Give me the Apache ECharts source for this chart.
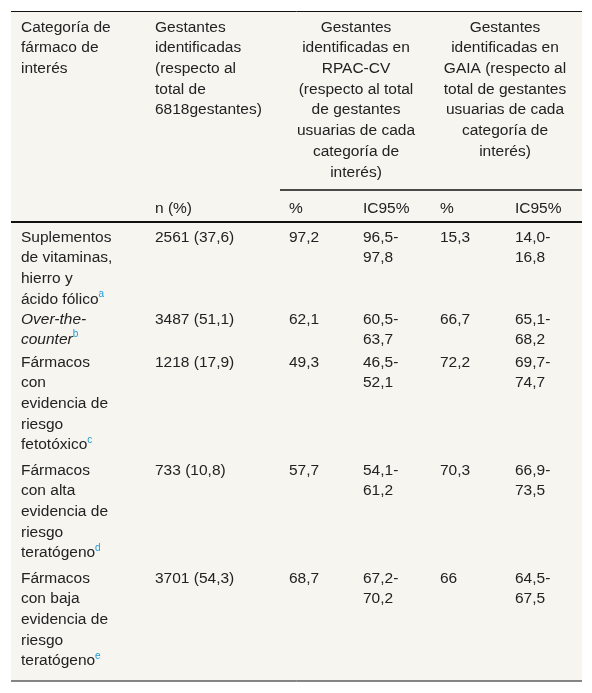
<!DOCTYPE html>
<html><head><meta charset="utf-8">
<script src="https://cdn.jsdelivr.net/npm/echarts@6/dist/echarts.min.js"></script>
<style>html,body{margin:0;background:#fff}#c{width:592px;height:693px}</style>
</head><body><div id="c"></div>
<script>
// row labels (already wrapped like the reference), {sup|} = footnote mark
const categories = [
  'Suplementos\nde vitaminas,\nhierro y\nácido fólico{sup|a}',
  '{it|Over-the-}\n{it|counter}{sup|b}',
  'Fármacos\ncon\nevidencia de\nriesgo\nfetotóxico{sup|c}',
  'Fármacos\ncon alta\nevidencia de\nriesgo\nteratógeno{sup|d}',
  'Fármacos\ncon baja\nevidencia de\nriesgo\nteratógeno{sup|e}'
];
const identified = ['2561 (37,6)', '3487 (51,1)', '1218 (17,9)', '733 (10,8)', '3701 (54,3)'];
const rpacPct = ['97,2', '62,1', '49,3', '57,7', '68,7'];
const rpacCI = ['96,5-\n97,8', '60,5-\n63,7', '46,5-\n52,1', '54,1-\n61,2', '67,2-\n70,2'];
const gaiaPct = ['15,3', '66,7', '72,2', '70,3', '66'];
const gaiaCI = ['14,0-\n16,8', '65,1-\n68,2', '69,7-\n74,7', '66,9-\n73,5', '64,5-\n67,5'];
const headers = [
  'Categoría de\nfármaco de\ninterés',
  'Gestantes\nidentificadas\n(respecto al\ntotal de\n6818gestantes)',
  'Gestantes\nidentificadas en\nRPAC-CV\n(respecto al total\nde gestantes\nusuarias de cada\ncategoría de\ninterés)',
  'Gestantes\nidentificadas en\nGAIA (respecto al\ntotal de gestantes\nusuarias de cada\ncategoría de\ninterés)'
];
const subHeaders = ['', 'n (%)', '%', 'IC95%', '%', 'IC95%'];

const colX = [21, 155, 289, 363, 440, 515];
const rowTop = [227, 309, 352, 460, 568];
const LH = 20.7;
const FS = 15.5;
const font = 'Liberation Sans, Arial, sans-serif';
const rich = {
  sup: {fontSize: 10, fill: '#1a9bd7', color: '#1a9bd7', verticalAlign: 'top', lineHeight: 12, fontFamily: font},
  it: {fontStyle: 'italic', fontSize: FS, lineHeight: LH, fontFamily: font, fill: '#222'}
};

function txt(x, y, s, align) {
  return {
    type: 'text', x: x, y: y,
    style: {text: s, fontSize: FS, fontFamily: font, fill: '#222', lineHeight: LH,
      align: align || 'left', verticalAlign: 'top', rich: rich}
  };
}
function line(x1, y, x2, w) {
  return {type: 'line', shape: {x1: x1, y1: y, x2: x2, y2: y}, style: {stroke: '#111', lineWidth: w || 1.5}};
}

const g = [{type: 'rect', shape: {x: 11, y: 11, width: 571, height: 670}, style: {fill: '#f7f5f0'}}];
g.push(line(11, 11.5, 582, 1), line(280, 190, 582), line(11, 222, 582, 2), line(11, 681, 582, 1));
g.push(txt(colX[0], 17, headers[0]), txt(colX[1], 17, headers[1]),
  txt(356, 17, headers[2], 'center'), txt(505, 17, headers[3], 'center'));
subHeaders.forEach((s, i) => { if (s) g.push(txt(colX[i], 198, s)); });
categories.forEach((c, i) => {
  const y = rowTop[i];
  g.push(txt(colX[0], y, c), txt(colX[1], y, identified[i]), txt(colX[2], y, rpacPct[i]),
    txt(colX[3], y, rpacCI[i]), txt(colX[4], y, gaiaPct[i]), txt(colX[5], y, gaiaCI[i]));
});

const chart = echarts.init(document.getElementById('c'));
chart.setOption({backgroundColor: '#fff', graphic: g});
</script></body></html>
